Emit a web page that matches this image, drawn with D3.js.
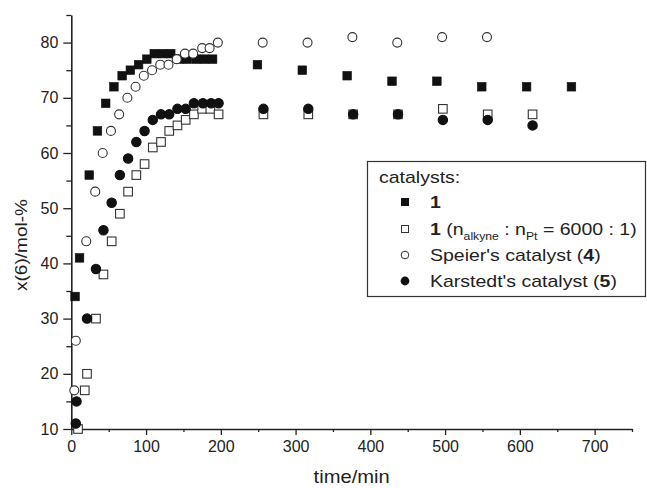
<!DOCTYPE html>
<html>
<head>
<meta charset="utf-8">
<script src="https://cdn.jsdelivr.net/npm/d3@7"></script>
<style>
  body { margin: 0; background: #fff; }
  text { font-family: "Liberation Sans", Arial, sans-serif; fill: #222; }
</style>
</head>
<body>
<div id="chart"></div>
<script>
// catalyst 1
const cat1Time = [5, 11, 24, 35, 46, 57, 68, 79, 90, 101, 111, 122, 133, 144, 155, 167, 178, 189, 249, 309, 369, 429, 489, 549, 609, 669];
const cat1Val  = [34, 41, 56, 64, 69, 72, 74, 75, 76, 77, 78, 78, 78, 77, 77, 77, 77, 77, 76, 75, 74, 73, 73, 72, 72, 72];
// catalyst 1, n_alkyne : n_Pt = 6000 : 1
const cat1bTime = [9, 18, 21, 33, 43, 54, 65, 76, 87, 98, 109, 120, 131, 142, 153, 164, 175, 186, 197, 257, 317, 377, 437, 497, 557, 617];
const cat1bVal  = [10, 17, 20, 30, 38, 44, 49, 53, 56, 58, 61, 62, 64, 65, 66, 67, 68, 68, 67, 67, 67, 67, 67, 68, 67, 67];
// Speier's catalyst (4)
const speierTime = [4, 6, 20, 32, 42, 53, 64, 75, 86, 97, 108, 119, 130, 141, 152, 163, 175, 185, 196, 256, 316, 376, 436, 496, 556];
const speierVal  = [17, 26, 44, 53, 60, 64, 67, 70, 72, 74, 75, 76, 76, 77, 78, 78, 79, 79, 80, 80, 80, 81, 80, 81, 81];
// Karstedt's catalyst (5)
const karstedtTime = [6, 7, 21, 33, 43, 54, 65, 76, 87, 98, 109, 120, 131, 142, 153, 164, 176, 187, 197, 257, 317, 377, 437, 497, 557, 617];
const karstedtVal  = [11, 15, 30, 39, 46, 51, 56, 59, 62, 64, 66, 67, 67, 68, 68, 69, 69, 69, 69, 68, 68, 67, 67, 66, 66, 65];

const xTicks = [0, 100, 200, 300, 400, 500, 600, 700];
const yTicks = [10, 20, 30, 40, 50, 60, 70, 80];

const W = 647, H = 488;
const margin = { top: 15, right: 15, bottom: 59, left: 71.3 };

const svg = d3.select("#chart").append("svg")
    .attr("width", W)
    .attr("height", H);

const x = d3.scaleLinear().domain([0, 750]).range([margin.left, W - margin.right]);
const y = d3.scaleLinear().domain([10, 85]).range([H - margin.bottom, margin.top]);

// minor ticks first
svg.append("g")
    .attr("transform", `translate(0,${y(10)})`)
    .call(d3.axisBottom(x).tickValues(d3.range(50, 751, 100)).tickSize(3).tickFormat(""))
    .call(g => g.select(".domain").remove())
    .call(g => g.selectAll("line").attr("stroke", "#222").attr("stroke-width", 1.3));

svg.append("g")
    .attr("transform", `translate(${x(0)},0)`)
    .call(d3.axisLeft(y).tickValues(d3.range(15, 86, 10)).tickSize(5).tickFormat(""))
    .call(g => g.select(".domain").remove())
    .call(g => g.selectAll("line").attr("stroke", "#222").attr("stroke-width", 1.3));

// main axes
const xAxis = svg.append("g")
    .attr("transform", `translate(0,${y(10)})`)
    .call(d3.axisBottom(x).tickValues(xTicks).tickSize(6).tickSizeOuter(0).tickPadding(6));

const yAxis = svg.append("g")
    .attr("transform", `translate(${x(0)},0)`)
    .call(d3.axisLeft(y).tickValues(yTicks).tickSize(8).tickSizeOuter(0).tickPadding(5));

[xAxis, yAxis].forEach(g => {
    g.select(".domain").attr("stroke", "#222").attr("stroke-width", 1.6);
    g.selectAll(".tick line").attr("stroke", "#222").attr("stroke-width", 1.3);
    g.selectAll(".tick text")
        .style("font-family", "'Liberation Sans', Arial, sans-serif")
        .style("font-size", "16px")
        .attr("fill", "#222");
});

// axis titles
svg.append("text")
    .attr("transform", `translate(${(x(0) + x(750)) / 2},${H - 5}) scale(1.12,1)`)
    .attr("text-anchor", "middle")
    .style("font-size", "18px")
    .text("time/min");

svg.append("text")
    .attr("transform", `translate(27,245) rotate(-90) scale(1.12,1)`)
    .attr("text-anchor", "middle")
    .style("font-size", "17px")
    .text("x(6)/mol-%");

// data
const series = [
    { t: cat1Time, v: cat1Val, shape: "square", filled: true },
    { t: cat1bTime, v: cat1bVal, shape: "square", filled: false },
    { t: speierTime, v: speierVal, shape: "circle", filled: false },
    { t: karstedtTime, v: karstedtVal, shape: "circle", filled: true }
];

const plot = svg.append("g");
series.forEach(s => {
    const pts = s.t.map((t, i) => ({ t: t, v: s.v[i] }));
    const g = plot.append("g");
    if (s.shape === "square") {
        g.selectAll("rect")
            .data(pts)
            .enter()
            .append("rect")
            .attr("x", d => x(d.t) - 4.3)
            .attr("y", d => y(d.v) - 4.3)
            .attr("width", 8.6)
            .attr("height", 8.6)
            .attr("fill", s.filled ? "#111" : "#fff")
            .attr("stroke", s.filled ? "#111" : "#333")
            .attr("stroke-width", s.filled ? 0.6 : 1.1);
    } else {
        g.selectAll("circle")
            .data(pts)
            .enter()
            .append("circle")
            .attr("cx", d => x(d.t))
            .attr("cy", d => y(d.v))
            .attr("r", s.filled ? 4.7 : 4.5)
            .attr("fill", s.filled ? "#111" : "#fff")
            .attr("stroke", s.filled ? "#111" : "#333")
            .attr("stroke-width", 1.1);
    }
});

// legend
const legend = svg.append("g");
legend.append("rect")
    .attr("x", 367.5)
    .attr("y", 161.5)
    .attr("width", 278)
    .attr("height", 135)
    .attr("fill", "#fff")
    .attr("stroke", "#333")
    .attr("stroke-width", 1.2);

const legendText = (xx, yy) => legend.append("text")
    .attr("transform", `translate(${xx},${yy}) scale(1.22,1)`)
    .style("font-size", "16px");

legendText(379, 183).text("catalysts:");

const rowY = [208, 235, 261, 287];
const symX = 405;

// row 1
legend.append("rect").attr("x", symX - 4).attr("y", rowY[0] - 10).attr("width", 8).attr("height", 8).attr("fill", "#111");
legendText(430, rowY[0]).append("tspan").style("font-weight", "bold").text("1");

// row 2
legend.append("rect").attr("x", symX - 3.5).attr("y", rowY[1] - 9.5).attr("width", 7).attr("height", 7)
    .attr("fill", "#fff").attr("stroke", "#333").attr("stroke-width", 1);
const t2 = legendText(430, rowY[1]);
t2.append("tspan").style("font-weight", "bold").text("1");
t2.append("tspan").text(" (n");
t2.append("tspan").attr("dy", 5).style("font-size", "10px").text("alkyne");
t2.append("tspan").attr("dy", -5).text(" : n");
t2.append("tspan").attr("dy", 5).style("font-size", "10px").text("Pt");
t2.append("tspan").attr("dy", -5).text(" = 6000 : 1)");

// row 3
legend.append("circle").attr("cx", symX).attr("cy", rowY[2] - 6).attr("r", 3.8)
    .attr("fill", "#fff").attr("stroke", "#333").attr("stroke-width", 1);
const t3 = legendText(430, rowY[2]);
t3.append("tspan").text("Speier's catalyst (");
t3.append("tspan").style("font-weight", "bold").text("4");
t3.append("tspan").text(")");

// row 4
legend.append("circle").attr("cx", symX).attr("cy", rowY[3] - 6).attr("r", 4.4).attr("fill", "#111");
const t4 = legendText(430, rowY[3]);
t4.append("tspan").text("Karstedt's catalyst (");
t4.append("tspan").style("font-weight", "bold").text("5");
t4.append("tspan").text(")");
</script>
</body>
</html>
